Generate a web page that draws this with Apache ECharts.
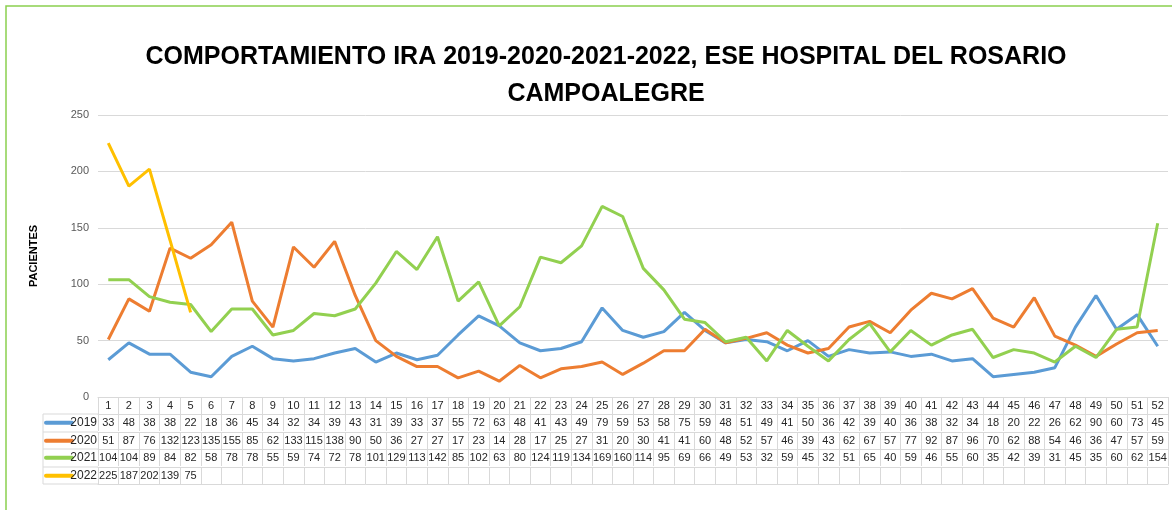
<!DOCTYPE html>
<html>
<head>
<meta charset="utf-8">
<script src="https://cdn.jsdelivr.net/npm/echarts@6/dist/echarts.min.js"></script>
<style>
  html, body { margin: 0; padding: 0; background: #fff; }
  #chart { width: 1172px; height: 510px; }
</style>
</head>
<body>
<div id="chart"></div>
<script>
// semanas epidemiologicas 1..52
const weeks = Array.from({ length: 52 }, (_, i) => String(i + 1));

const years = ['2019', '2020', '2021', '2022'];

const data2019 = [33, 48, 38, 38, 22, 18, 36, 45, 34, 32, 34, 39, 43, 31, 39, 33, 37, 55, 72, 63, 48, 41, 43, 49, 79, 59,
  53, 58, 75, 59, 48, 51, 49, 41, 50, 36, 42, 39, 40, 36, 38, 32, 34, 18, 20, 22, 26, 62, 90, 60, 73, 45];
const data2020 = [51, 87, 76, 132, 123, 135, 155, 85, 62, 133, 115, 138, 90, 50, 36, 27, 27, 17, 23, 14, 28, 17, 25, 27, 31, 20,
  30, 41, 41, 60, 48, 52, 57, 46, 39, 43, 62, 67, 57, 77, 92, 87, 96, 70, 62, 88, 54, 46, 36, 47, 57, 59];
const data2021 = [104, 104, 89, 84, 82, 58, 78, 78, 55, 59, 74, 72, 78, 101, 129, 113, 142, 85, 102, 63, 80, 124, 119, 134, 169, 160,
  114, 95, 69, 66, 49, 53, 32, 59, 45, 32, 51, 65, 40, 59, 46, 55, 60, 35, 42, 39, 31, 45, 35, 60, 62, 154];
const data2022 = [225, 187, 202, 139, 75];

const seriesData = [data2019, data2020, data2021, data2022];
const colors = ['#5b9bd5', '#ed7d31', '#92d050', '#ffc000'];

const font = "'Liberation Sans', Arial, sans-serif";
const gridLeft = 98;
const gridBottomY = 397;
const rowH = 17.4;
const gridColor = '#d9d9d9';
const cellLabel = { interval: 0, margin: 3, fontSize: 11, color: '#262626', fontFamily: font, verticalAlign: 'top', lineHeight: 12 };

// filas de la tabla como ejes x adicionales
const tableAxes = seriesData.map((vals, k) => ({
  type: 'category',
  gridIndex: 0,
  position: 'bottom',
  offset: Math.round((k + 1) * rowH),
  data: weeks.map((w, i) => (vals[i] != null ? String(vals[i]) : '')),
  axisLine: { show: true, lineStyle: { color: gridColor, width: 1 } },
  axisTick: { show: true, length: Math.round(rowH), inside: false, lineStyle: { color: gridColor } },
  axisLabel: cellLabel,
  splitLine: { show: false }
}));

// linea inferior de la tabla
tableAxes.push({
  type: 'category',
  gridIndex: 0,
  position: 'bottom',
  offset: Math.round(5 * rowH),
  data: weeks,
  axisLine: { show: true, lineStyle: { color: gridColor, width: 1 } },
  axisTick: { show: false },
  axisLabel: { show: false }
});

const legendGraphics = [];
const colLeft = 43;
years.forEach((y, k) => {
  const top = gridBottomY + Math.round((k + 1) * rowH);
  const cy = top + rowH / 2;
  legendGraphics.push({
    type: 'line',
    shape: { x1: colLeft + 3, y1: cy, x2: colLeft + 29, y2: cy },
    style: { stroke: colors[k], lineWidth: 4, lineCap: 'round' }
  });
  legendGraphics.push({
    type: 'text',
    x: gridLeft - 1,
    y: cy,
    style: { text: y, fill: '#262626', font: '12px ' + font, textAlign: 'right', textVerticalAlign: 'middle' }
  });
  legendGraphics.push({
    type: 'line',
    shape: { x1: colLeft, y1: top, x2: gridLeft, y2: top },
    style: { stroke: gridColor, lineWidth: 1 }
  });
});
legendGraphics.push({
  type: 'line',
  shape: { x1: colLeft, y1: gridBottomY + Math.round(5 * rowH), x2: gridLeft, y2: gridBottomY + Math.round(5 * rowH) },
  style: { stroke: gridColor, lineWidth: 1 }
});
legendGraphics.push({
  type: 'line',
  shape: { x1: colLeft, y1: gridBottomY + Math.round(rowH), x2: colLeft, y2: gridBottomY + Math.round(5 * rowH) },
  style: { stroke: gridColor, lineWidth: 1 }
});

const chart = echarts.init(document.getElementById('chart'), null, { renderer: 'canvas' });

const option = {
  backgroundColor: '#fff',
  animation: false,
  title: {
    text: 'COMPORTAMIENTO IRA 2019-2020-2021-2022, ESE HOSPITAL DEL ROSARIO\nCAMPOALEGRE',
    left: 601,
    textAlign: 'center',
    top: 34,
    textStyle: { fontFamily: font, fontWeight: 'bold', fontSize: 25, color: '#000', lineHeight: 37 }
  },
  graphic: [
    {
      type: 'rect',
      shape: { x: 6, y: 6, width: 1300, height: 700 },
      style: { fill: 'none', stroke: '#8bd04f', lineWidth: 1.5 },
      silent: true
    }
  ].concat(legendGraphics),
  grid: { left: gridLeft, right: 4, top: 115, bottom: 510 - gridBottomY },
  xAxis: [
    {
      type: 'category',
      data: weeks,
      position: 'bottom',
      axisLine: { show: true, lineStyle: { color: gridColor, width: 1 } },
      axisTick: { show: true, length: Math.round(rowH), lineStyle: { color: gridColor } },
      axisLabel: cellLabel
    }
  ].concat(tableAxes),
  yAxis: {
    type: 'value',
    min: 0,
    max: 250,
    interval: 50,
    name: 'PACIENTES',
    nameLocation: 'middle',
    nameGap: 59,
    nameTextStyle: { fontFamily: font, fontWeight: 'bold', fontSize: 11, color: '#000' },
    axisLine: { show: false },
    axisTick: { show: false },
    axisLabel: { fontFamily: font, fontSize: 11, color: '#595959', margin: 9 },
    splitLine: { lineStyle: { color: gridColor, width: 1 } }
  },
  series: seriesData.map((vals, k) => ({
    name: years[k],
    type: 'line',
    xAxisIndex: 0,
    data: vals,
    symbol: 'none',
    lineStyle: { color: colors[k], width: 3 },
    itemStyle: { color: colors[k] }
  }))
};

chart.setOption(option);
</script>
</body>
</html>
